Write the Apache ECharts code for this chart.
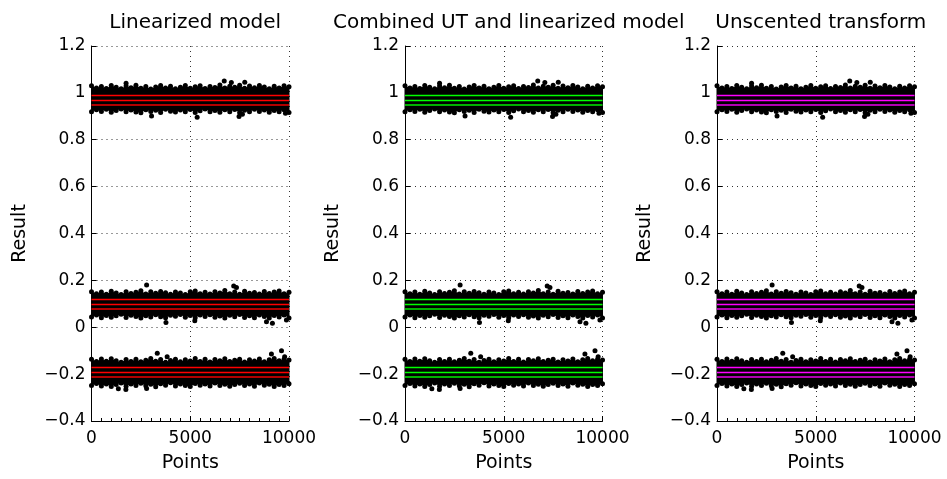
<!DOCTYPE html>
<html>
<head>
<meta charset="utf-8">
<script src="https://cdn.jsdelivr.net/npm/echarts@6/dist/echarts.min.js"></script>
<style>
  html, body { margin: 0; padding: 0; background: #fff; }
  #chart { width: 947px; height: 479px; }
</style>
</head>
<body>
<div id="chart"></div>
<script>
// panel titles and line colours
const titles = ['Linearized model', 'Combined UT and linearized model', 'Unscented transform'];
const lineColors = ['#ff0000', '#00ff00', '#ff00ff'];
const lineColorsDark = ['#b00000', '#00b000', '#b000b0'];

// sample positions along the point index
const xPos = [0, 250, 500, 750, 1000, 1250, 1500, 1750, 2000, 2250, 2500, 2750, 3000, 3250, 3500, 3750,
  4000, 4250, 4500, 4750, 5000, 5250, 5500, 5750, 6000, 6250, 6500, 6750, 7000, 7250, 7500, 7750,
  8000, 8250, 8500, 8750, 9000, 9250, 9500, 9750, 10000];

// outer edges of the dense point clouds (same in every panel)
const band1Upper = [1.030, 1.021, 1.027, 1.019, 1.031, 1.024, 1.018, 1.029, 1.022, 1.033, 1.020, 1.027, 1.017,
  1.025, 1.031, 1.021, 1.028, 1.018, 1.024, 1.032, 1.020, 1.026, 1.030, 1.019, 1.027, 1.023, 1.034, 1.021,
  1.028, 1.024, 1.033, 1.020, 1.029, 1.022, 1.031, 1.025, 1.018, 1.028, 1.021, 1.030, 1.026];
const band1Lower = [0.919, 0.928, 0.921, 0.930, 0.917, 0.925, 0.931, 0.920, 0.927, 0.918, 0.915, 0.928, 0.921,
  0.926, 0.916, 0.930, 0.922, 0.918, 0.927, 0.920, 0.929, 0.916, 0.924, 0.931, 0.919, 0.925, 0.917, 0.928,
  0.920, 0.929, 0.915, 0.926, 0.919, 0.930, 0.921, 0.927, 0.917, 0.925, 0.920, 0.928, 0.916];
const band2Upper = [0.152, 0.143, 0.150, 0.141, 0.154, 0.146, 0.140, 0.152, 0.144, 0.149, 0.156, 0.142, 0.151,
  0.145, 0.153, 0.147, 0.141, 0.150, 0.146, 0.140, 0.151, 0.155, 0.143, 0.149, 0.142, 0.152, 0.146, 0.157,
  0.143, 0.150, 0.141, 0.154, 0.145, 0.148, 0.142, 0.153, 0.144, 0.150, 0.155, 0.143, 0.149];
const band2Lower = [0.044, 0.052, 0.041, 0.050, 0.043, 0.049, 0.055, 0.042, 0.051, 0.046, 0.040, 0.049, 0.044,
  0.053, 0.045, 0.041, 0.051, 0.047, 0.054, 0.043, 0.050, 0.041, 0.052, 0.046, 0.053, 0.043, 0.048, 0.040,
  0.051, 0.045, 0.054, 0.042, 0.049, 0.041, 0.052, 0.046, 0.039, 0.050, 0.044, 0.052, 0.040];
const band3Upper = [-0.137, -0.146, -0.135, -0.145, -0.134, -0.143, -0.149, -0.138, -0.146, -0.136, -0.147,
  -0.141, -0.133, -0.145, -0.138, -0.149, -0.142, -0.136, -0.147, -0.139, -0.144, -0.133, -0.146, -0.137,
  -0.148, -0.138, -0.143, -0.134, -0.146, -0.141, -0.136, -0.148, -0.139, -0.144, -0.135, -0.147, -0.139,
  -0.133, -0.143, -0.136, -0.140];
const band3Lower = [-0.249, -0.240, -0.251, -0.242, -0.253, -0.244, -0.238, -0.252, -0.242, -0.248, -0.239,
  -0.250, -0.243, -0.254, -0.241, -0.247, -0.237, -0.251, -0.242, -0.248, -0.253, -0.240, -0.247, -0.242,
  -0.251, -0.238, -0.248, -0.243, -0.252, -0.244, -0.239, -0.249, -0.242, -0.252, -0.238, -0.247, -0.243,
  -0.253, -0.244, -0.249, -0.241];

// isolated points outside the dense clouds: [point index, result]
const outliers = [
  [1750, 1.041], [6720, 1.051], [7080, 1.044], [7760, 1.045],
  [3040, 0.901], [5350, 0.896], [7470, 0.899], [7640, 0.909], [9820, 0.913],
  [2790, 0.180], [7200, 0.176], [7340, 0.170],
  [3770, 0.020], [5230, 0.028], [8860, 0.024], [9160, 0.017], [9870, 0.031],
  [3330, -0.111], [3830, -0.126], [9110, -0.114], [9620, -0.100], [9780, -0.126],
  [1360, -0.262], [1740, -0.266], [2790, -0.261]
];

// mean and mean +/- std lines per band: [upper, mean, lower]
const band1Lines = [0.993, 0.973, 0.953];
const band2Lines = [0.118, 0.098, 0.078];
const band3Lines = [-0.169, -0.190, -0.212];

const bands = [[band1Lower, band1Upper], [band2Lower, band2Upper], [band3Lower, band3Upper]];
const bandLines = [band1Lines, band2Lines, band3Lines];

const gridLefts = [91.5, 405, 717];
const gridWidth = 197.5;
const FONT = 'DejaVu Sans';

const grids = [], xAxes = [], yAxes = [], series = [], titleList = [];

gridLefts.forEach(function (left, p) {
  grids.push({ left: left, top: 46, width: gridWidth, height: 375 });
  titleList.push({
    text: titles[p], left: left + gridWidth / 2, top: 8, textAlign: 'center',
    textStyle: { fontFamily: FONT, fontSize: 20, fontWeight: 'normal', color: '#000' }
  });
  xAxes.push({
    gridIndex: p, type: 'value', min: 0, max: 10000, interval: 5000,
    name: 'Points', nameLocation: 'middle', nameGap: 33,
    nameTextStyle: { fontFamily: FONT, fontSize: 19, color: '#000' },
    axisLine: { show: true, onZero: false, lineStyle: { color: '#000', width: 1 } },
    axisTick: { show: true, inside: true, length: 5, lineStyle: { color: '#000' } },
    minorTick: { show: true, splitNumber: 10, length: 3, lineStyle: { color: '#000' } },
    axisLabel: {
      fontFamily: FONT, fontSize: 17, color: '#000', margin: 9,
      formatter: function (v) { return String(v); }
    },
    splitLine: { show: true, lineStyle: { color: '#333', width: 1, type: [1, 4] } }
  });
  yAxes.push({
    gridIndex: p, type: 'value', min: -0.4, max: 1.2, interval: 0.2,
    name: 'Result', nameLocation: 'middle', nameGap: 62, nameRotate: 90,
    nameTextStyle: { fontFamily: FONT, fontSize: 19, color: '#000' },
    axisLine: { show: true, onZero: false, lineStyle: { color: '#000', width: 1 } },
    axisTick: { show: true, inside: true, length: 5, lineStyle: { color: '#000' } },
    axisLabel: {
      fontFamily: FONT, fontSize: 17, color: '#000', margin: 6,
      formatter: function (v) { return String(+v.toFixed(1)).replace('-', '\u2212'); }
    },
    splitLine: { show: true, lineStyle: { color: '#333', width: 1, type: [1, 4] } }
  });

  bands.forEach(function (band) {
    const lower = band[0], upper = band[1];
    // filled body of the point cloud, one quad between neighbouring samples
    series.push({
      type: 'custom', xAxisIndex: p, yAxisIndex: p, silent: true, z: 2,
      data: xPos.map(function (x, i) { return [x, lower[i], upper[i]]; }),
      encode: { x: 0, y: [1, 2] },
      renderItem: function (params, api) {
        const i = params.dataIndex;
        if (i >= xPos.length - 1) return null;
        const a = api.coord([xPos[i], lower[i]]);
        const b = api.coord([xPos[i + 1], lower[i + 1]]);
        const c = api.coord([xPos[i + 1], upper[i + 1]]);
        const d = api.coord([xPos[i], upper[i]]);
        return {
          type: 'polygon',
          shape: { points: [[a[0] - 0.5, a[1]], [b[0] + 0.5, b[1]], [c[0] + 0.5, c[1]], [d[0] - 0.5, d[1]]] },
          style: { fill: '#000' }
        };
      }
    });
    // dotted edges of the cloud
    series.push({
      type: 'scatter', xAxisIndex: p, yAxisIndex: p, silent: true, z: 2,
      data: xPos.map(function (x, i) { return [x, lower[i]]; })
        .concat(xPos.map(function (x, i) { return [x, upper[i]]; })),
      symbolSize: 5, itemStyle: { color: '#000', opacity: 1 }
    });
  });

  // stray points
  series.push({
    type: 'scatter', xAxisIndex: p, yAxisIndex: p, silent: true,
    data: outliers, symbolSize: 5, itemStyle: { color: '#000', opacity: 1 }, z: 3
  });

  // mean and +/- std lines
  const lineData = [];
  bandLines.forEach(function (vals) {
    lineData.push({ yAxis: vals[0], lineStyle: { color: lineColors[p], width: 1.4, type: 'solid' } });
    lineData.push({ yAxis: vals[1], lineStyle: { color: lineColors[p], width: 1.4, type: 'solid' } });
    lineData.push({ yAxis: vals[2], lineStyle: { color: lineColorsDark[p], width: 2.2, type: 'solid' } });
  });
  series.push({
    type: 'line', xAxisIndex: p, yAxisIndex: p, data: [], z: 5,
    markLine: {
      silent: true, symbol: ['none', 'none'], label: { show: false },
      emphasis: { disabled: true }, animation: false, data: lineData
    }
  });
});

const chart = echarts.init(document.getElementById('chart'), null, { renderer: 'canvas' });
chart.setOption({
  animation: false,
  backgroundColor: '#fff',
  title: titleList,
  grid: grids,
  xAxis: xAxes,
  yAxis: yAxes,
  series: series
});
</script>
</body>
</html>
